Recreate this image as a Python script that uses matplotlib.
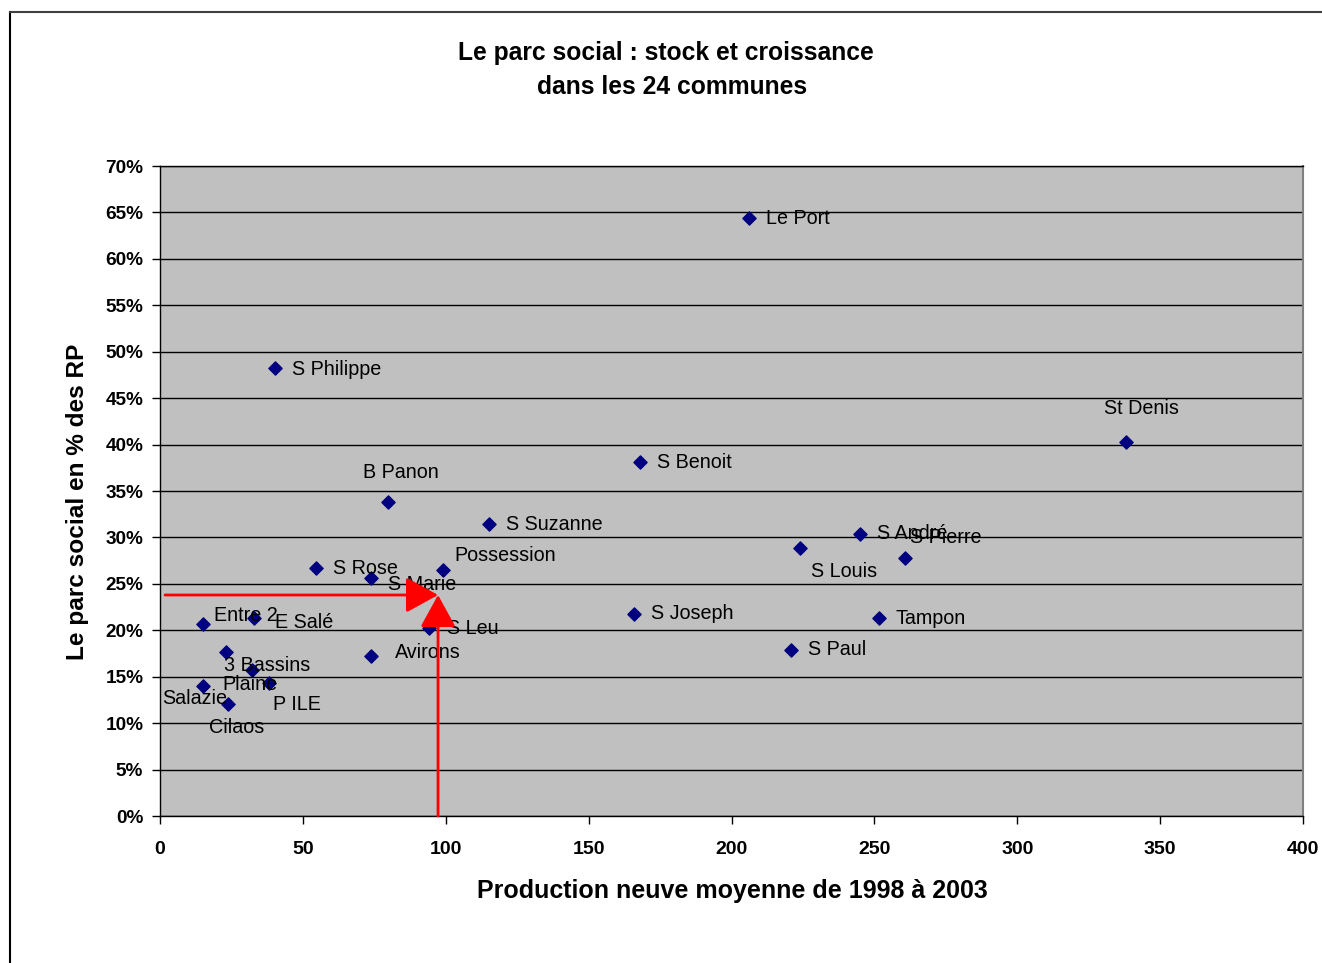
import matplotlib
matplotlib.use("Agg")
import matplotlib.pyplot as plt
from matplotlib.lines import Line2D
from matplotlib.ticker import FuncFormatter, MultipleLocator

# Communes: average new production 1998-2003 vs social housing share (% of main residences)
communes = ["Le Port", "S Philippe", "St Denis", "S Benoit", "B Panon", "S Suzanne",
            "S André", "S Louis", "S Pierre", "S Rose", "Possession", "S Marie",
            "S Joseph", "Tampon", "Entre 2", "E Salé", "S Leu", "S Paul",
            "Avirons", "3 Bassins", "Plaine", "Salazie", "P ILE", "Cilaos"]
production = [206.1, 40.2, 338.1, 168.0, 79.8, 115.1,
              245.0, 224.0, 260.7, 54.6, 99.0, 73.8,
              165.9, 251.6, 15.0, 32.9, 94.1, 220.8,
              73.8, 23.1, 32.2, 15.0, 38.1, 23.8]
parc_social = [64.4, 48.2, 40.3, 38.1, 33.8, 31.4,
               30.4, 28.9, 27.8, 26.7, 26.5, 25.6,
               21.8, 21.3, 20.7, 21.3, 20.2, 17.9,
               17.2, 17.7, 15.7, 14.0, 14.3, 12.1]

# Label placement (pixel offsets from each point, horizontal alignment)
label_offsets = {
    "Le Port": (17, 2, "left"), "S Philippe": (17, 1, "left"),
    "St Denis": (15, 35, "center"), "S Benoit": (17, 2, "left"),
    "B Panon": (13, 32, "center"), "S Suzanne": (17, 2, "left"),
    "S André": (17, 2, "left"), "S Louis": (11, -22, "left"),
    "S Pierre": (5, 22, "left"), "S Rose": (17, 2, "left"),
    "Possession": (11, 16, "left"), "S Marie": (17, -4, "left"),
    "S Joseph": (17, 2, "left"), "Tampon": (17, 2, "left"),
    "Entre 2": (11, 10, "left"), "E Salé": (21, -2, "left"),
    "S Leu": (18, 2, "left"), "S Paul": (17, 2, "left"),
    "Avirons": (24, 6, "left"), "3 Bassins": (-2, -12, "left"),
    "Plaine": (-30, -12, "left"), "Salazie": (-41, -10, "left"),
    "P ILE": (4, -19, "left"), "Cilaos": (-19, -22, "left"),
}

# Reference point highlighted with red arrows
ref_x = 97.3
ref_y = 23.8
arrow_start_x = 1.75

FONT = "Liberation Sans"

fig = plt.figure(figsize=(13.22, 9.63), dpi=100)
fig.patch.set_facecolor("white")

# Chart frame
fig.add_artist(Line2D([9.5 / 1322, 9.5 / 1322], [0, 1 - 12 / 963],
                      transform=fig.transFigure, color="black", lw=1.5))
fig.add_artist(Line2D([9.5 / 1322, 1], [1 - 12 / 963, 1 - 12 / 963],
                      transform=fig.transFigure, color="#404040", lw=1.5))

ax = fig.add_axes([160 / 1322, 147 / 963, 1143 / 1322, 650 / 963])
ax.set_facecolor("#C0C0C0")
ax.set_xlim(0, 400)
ax.set_ylim(0, 70)
ax.xaxis.set_major_locator(MultipleLocator(50))
ax.yaxis.set_major_locator(MultipleLocator(5))
ax.yaxis.set_major_formatter(FuncFormatter(lambda v, p: f"{v:.0f}%"))
ax.grid(axis="y", color="black", lw=1.0)
ax.set_axisbelow(True)

for side in ("left", "bottom", "top"):
    ax.spines[side].set_color("black")
    ax.spines[side].set_linewidth(1.0)
ax.spines["right"].set_color("#808080")
ax.spines["right"].set_linewidth(1.5)

ax.tick_params(axis="x", direction="out", length=6, width=1, pad=12, labelsize=14)
ax.tick_params(axis="y", direction="out", length=6, width=1, pad=6, labelsize=13.7)
for lbl in ax.get_xticklabels() + ax.get_yticklabels():
    lbl.set_fontfamily(FONT)
    lbl.set_fontweight("bold")

ax.scatter(production, parc_social, marker="D", s=45, color="#000080",
           edgecolors="#000080", zorder=3)

for name, xv, yv in zip(communes, production, parc_social):
    dx, dy, ha = label_offsets[name]
    ax.annotate(name, (xv, yv), xytext=(dx, dy), textcoords="offset pixels",
                ha=ha, va="center_baseline", fontsize=14.2, fontfamily=FONT,
                color="black", zorder=4)

arrow_props = dict(arrowstyle="-|>,head_length=1.0,head_width=0.55",
                   color="red", lw=2, mutation_scale=20, shrinkA=0, shrinkB=0)
ax.annotate("", xy=(ref_x, ref_y), xytext=(arrow_start_x, ref_y),
            arrowprops=arrow_props, zorder=5)
ax.annotate("", xy=(ref_x, ref_y), xytext=(ref_x, 0),
            arrowprops=arrow_props, zorder=5, annotation_clip=False)

fig.text(666 / 1322, 1 - 53 / 963, "Le parc social : stock et croissance",
         ha="center", va="center", fontsize=17.7, fontweight="bold", fontfamily=FONT)
fig.text(672 / 1322, 1 - 87 / 963, "dans les 24 communes",
         ha="center", va="center", fontsize=17.7, fontweight="bold", fontfamily=FONT)
fig.text(732 / 1322, 1 - 891 / 963, "Production neuve moyenne de 1998 à 2003",
         ha="center", va="center", fontsize=18, fontweight="bold", fontfamily=FONT)
fig.text(78 / 1322, 1 - 502 / 963, "Le parc social en % des RP", rotation=90,
         ha="center", va="center", fontsize=17.6, fontweight="bold", fontfamily=FONT)

fig.savefig("out.png", dpi=100)
